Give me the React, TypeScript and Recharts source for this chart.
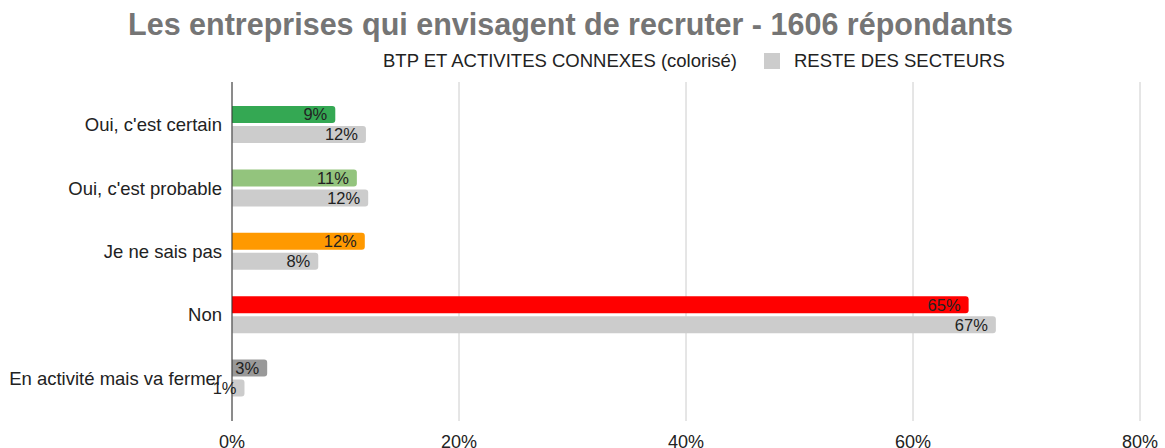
import React from 'react';
import {
  BarChart,
  Bar,
  XAxis,
  YAxis,
  CartesianGrid,
  Cell,
  LabelList
} from 'recharts';

const title = 'Les entreprises qui envisagent de recruter - 1606 répondants';
const seriesNames = ['BTP ET ACTIVITES CONNEXES (colorisé)', 'RESTE DES SECTEURS'];

const categories = [
  "Oui, c'est certain",
  "Oui, c'est probable",
  'Je ne sais pas',
  'Non',
  'En activité mais va fermer'
];
const btpValues = [9.1, 11, 11.7, 64.9, 3.1];
const resteValues = [11.8, 12, 7.6, 67.3, 1.1];
const btpColors = ['#34a853', '#93c47d', '#ff9900', '#ff0000', '#999999'];
const resteColor = '#cccccc';
const xTicks = [0, 20, 40, 60, 80];

const data = categories.map((name, i) => ({
  name,
  btp: btpValues[i],
  reste: resteValues[i]
}));

const FONT = '"Liberation Sans", Arial, sans-serif';

const pct = (v: any) => `${Math.round(Number(v))}%`;

const App: React.FC = () => {
  return (
    <div style={{ position: 'fixed', left: 0, top: 0, width: 1165, height: 448, background: '#fff', fontFamily: FONT }}>
      <div
        style={{
          position: 'absolute',
          top: 6,
          left: 0,
          width: 1141,
          textAlign: 'center',
          fontSize: 30.5,
          fontWeight: 'bold',
          color: '#757575',
          lineHeight: '36px'
        }}
      >
        {title}
      </div>
      <div
        style={{
          position: 'absolute',
          top: 50,
          left: 383,
          display: 'flex',
          alignItems: 'center',
          fontSize: 18.5,
          color: '#222',
          lineHeight: '22px',
          whiteSpace: 'nowrap'
        }}
      >
        <span>{seriesNames[0]}</span>
        <span style={{ display: 'inline-block', width: 16, height: 16, background: resteColor, marginLeft: 27, marginRight: 14 }} />
        <span>{seriesNames[1]}</span>
      </div>
      <BarChart
        width={1165}
        height={448}
        data={data}
        layout="vertical"
        margin={{ top: 82, right: 25, bottom: 0, left: 0 }}
        barSize={17}
        barGap={3}
        style={{ position: 'absolute', left: 0, top: 0 }}
      >
        <CartesianGrid horizontal={false} stroke="#cccccc" />
        <XAxis
          type="number"
          domain={[0, 80]}
          ticks={xTicks}
          tickFormatter={(v) => `${v}%`}
          axisLine={false}
          tickLine={false}
          height={27}
          tickMargin={8}
          tick={{ fill: '#222', fontSize: 18, fontFamily: FONT }}
        />
        <YAxis
          type="category"
          dataKey="name"
          width={232}
          padding={{ top: 11, bottom: 11 }}
          axisLine={{ stroke: '#333333' }}
          tickLine={false}
          tickSize={0}
          tickMargin={10}
          tick={{ fill: '#222', fontSize: 18.5, fontFamily: FONT }}
        />
        <Bar dataKey="btp" radius={[0, 3, 3, 0]} isAnimationActive={false}>
          {btpColors.map((c, i) => (
            <Cell key={i} fill={c} />
          ))}
          <LabelList dataKey="btp" position="insideRight" offset={8} formatter={pct} fill="#222" fontSize={16.5} fontFamily={FONT} />
        </Bar>
        <Bar dataKey="reste" fill={resteColor} radius={[0, 3, 3, 0]} isAnimationActive={false}>
          <LabelList dataKey="reste" position="insideRight" offset={8} formatter={pct} fill="#222" fontSize={16.5} fontFamily={FONT} />
        </Bar>
      </BarChart>
    </div>
  );
};

export default App;
